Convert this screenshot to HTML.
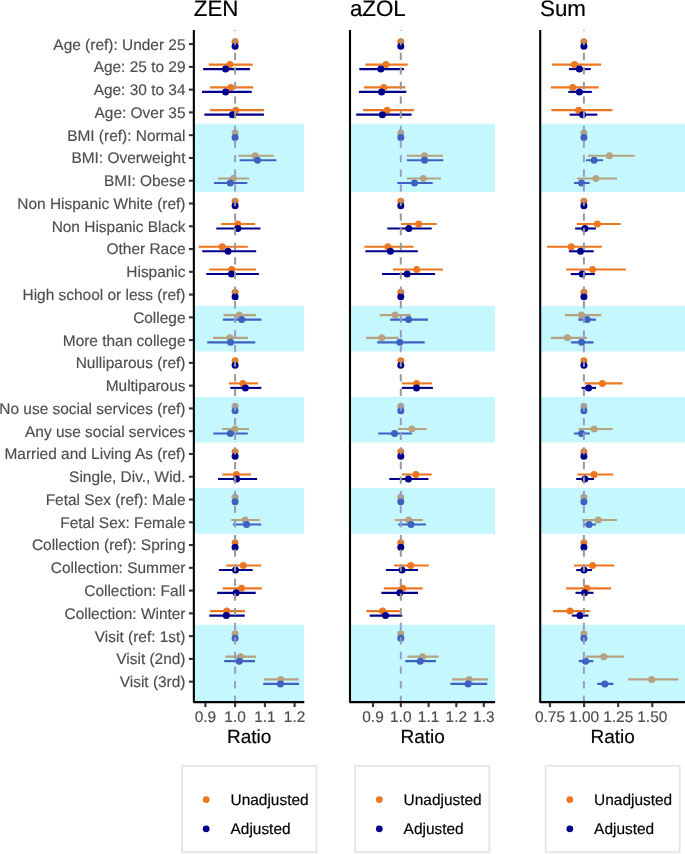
<!DOCTYPE html>
<html><head><meta charset="utf-8"><title>Forest plot</title>
<style>html,body{margin:0;padding:0;background:#fff}svg{display:block}text{font-family:"Liberation Sans",sans-serif;text-rendering:geometricPrecision}</style></head><body>
<svg style="will-change:transform" width="685" height="854" viewBox="0 0 685 854">
<rect x="0" y="0" width="685" height="854" fill="#ffffff"/>
<g font-size="15.45" fill="#4d4d4d" stroke="#4d4d4d" stroke-width="0.15" text-anchor="end">
<text x="185.5" y="49.55">Age (ref): Under 25</text>
<text x="185.5" y="72.32">Age: 25 to 29</text>
<text x="185.5" y="95.09">Age: 30 to 34</text>
<text x="185.5" y="117.86">Age: Over 35</text>
<text x="185.5" y="140.63">BMI (ref): Normal</text>
<text x="185.5" y="163.40">BMI: Overweight</text>
<text x="185.5" y="186.17">BMI: Obese</text>
<text x="185.5" y="208.94">Non Hispanic White (ref)</text>
<text x="185.5" y="231.71">Non Hispanic Black</text>
<text x="185.5" y="254.48">Other Race</text>
<text x="185.5" y="277.25">Hispanic</text>
<text x="185.5" y="300.02">High school or less (ref)</text>
<text x="185.5" y="322.79">College</text>
<text x="185.5" y="345.56">More than college</text>
<text x="185.5" y="368.33">Nulliparous (ref)</text>
<text x="185.5" y="391.10">Multiparous</text>
<text x="185.5" y="413.87">No use social services (ref)</text>
<text x="185.5" y="436.64">Any use social services</text>
<text x="185.5" y="459.41">Married and Living As (ref)</text>
<text x="185.5" y="482.18">Single, Div., Wid.</text>
<text x="185.5" y="504.95">Fetal Sex (ref): Male</text>
<text x="185.5" y="527.72">Fetal Sex: Female</text>
<text x="185.5" y="550.49">Collection (ref): Spring</text>
<text x="185.5" y="573.26">Collection: Summer</text>
<text x="185.5" y="596.03">Collection: Fall</text>
<text x="185.5" y="618.80">Collection: Winter</text>
<text x="185.5" y="641.57">Visit (ref: 1st)</text>
<text x="185.5" y="664.34">Visit (2nd)</text>
<text x="185.5" y="687.11">Visit (3rd)</text>
</g>
<g>
<clipPath id="bc0">
<rect x="193.85" y="123.80" width="110.45" height="68.31"/>
<rect x="193.85" y="305.96" width="110.45" height="45.54"/>
<rect x="193.85" y="397.04" width="110.45" height="45.54"/>
<rect x="193.85" y="488.12" width="110.45" height="45.54"/>
<rect x="193.85" y="624.74" width="110.45" height="77.37"/>
</clipPath>
<g stroke="#ed7721" stroke-width="2.1" fill="#ed7721">
<circle cx="235.1" cy="41.85" r="3.5" stroke="none"/>
<line x1="208.9" y1="64.62" x2="252.7" y2="64.62"/>
<circle cx="229.9" cy="64.62" r="3.5" stroke="none"/>
<line x1="210.1" y1="87.39" x2="253.1" y2="87.39"/>
<circle cx="230.8" cy="87.39" r="3.5" stroke="none"/>
<line x1="210.1" y1="110.16" x2="264.1" y2="110.16"/>
<circle cx="235.9" cy="110.16" r="3.5" stroke="none"/>
<circle cx="235.1" cy="132.93" r="3.5" stroke="none"/>
<line x1="238.2" y1="155.70" x2="273.7" y2="155.70"/>
<circle cx="255.2" cy="155.70" r="3.5" stroke="none"/>
<line x1="218.0" y1="178.47" x2="249.2" y2="178.47"/>
<circle cx="233.3" cy="178.47" r="3.5" stroke="none"/>
<circle cx="235.1" cy="201.24" r="3.5" stroke="none"/>
<line x1="221.2" y1="224.01" x2="255.2" y2="224.01"/>
<circle cx="237.7" cy="224.01" r="3.5" stroke="none"/>
<line x1="198.8" y1="246.78" x2="247.8" y2="246.78"/>
<circle cx="222.2" cy="246.78" r="3.5" stroke="none"/>
<line x1="209.3" y1="269.55" x2="256.0" y2="269.55"/>
<circle cx="231.7" cy="269.55" r="3.5" stroke="none"/>
<circle cx="235.1" cy="292.32" r="3.5" stroke="none"/>
<line x1="223.6" y1="315.09" x2="255.9" y2="315.09"/>
<circle cx="239.1" cy="315.09" r="3.5" stroke="none"/>
<line x1="213.1" y1="337.86" x2="247.8" y2="337.86"/>
<circle cx="229.9" cy="337.86" r="3.5" stroke="none"/>
<circle cx="235.1" cy="360.63" r="3.5" stroke="none"/>
<line x1="228.9" y1="383.40" x2="258.0" y2="383.40"/>
<circle cx="242.9" cy="383.40" r="3.5" stroke="none"/>
<circle cx="235.1" cy="406.17" r="3.5" stroke="none"/>
<line x1="222.1" y1="428.94" x2="249.0" y2="428.94"/>
<circle cx="235.0" cy="428.94" r="3.5" stroke="none"/>
<circle cx="235.1" cy="451.71" r="3.5" stroke="none"/>
<line x1="222.4" y1="474.48" x2="251.0" y2="474.48"/>
<circle cx="236.4" cy="474.48" r="3.5" stroke="none"/>
<circle cx="235.1" cy="497.25" r="3.5" stroke="none"/>
<line x1="231.2" y1="520.02" x2="259.7" y2="520.02"/>
<circle cx="245.2" cy="520.02" r="3.5" stroke="none"/>
<circle cx="235.1" cy="542.79" r="3.5" stroke="none"/>
<line x1="226.3" y1="565.56" x2="261.0" y2="565.56"/>
<circle cx="243.3" cy="565.56" r="3.5" stroke="none"/>
<line x1="222.6" y1="588.33" x2="261.8" y2="588.33"/>
<circle cx="241.5" cy="588.33" r="3.5" stroke="none"/>
<line x1="210.1" y1="611.10" x2="245.0" y2="611.10"/>
<circle cx="226.8" cy="611.10" r="3.5" stroke="none"/>
<circle cx="235.1" cy="633.87" r="3.5" stroke="none"/>
<line x1="225.4" y1="656.64" x2="256.2" y2="656.64"/>
<circle cx="240.5" cy="656.64" r="3.5" stroke="none"/>
<line x1="264.1" y1="679.41" x2="298.8" y2="679.41"/>
<circle cx="280.8" cy="679.41" r="3.5" stroke="none"/>
</g>
<g stroke="#00008b" stroke-width="2.1" fill="#00008b">
<circle cx="235.1" cy="46.35" r="3.5" stroke="none"/>
<line x1="203.1" y1="69.12" x2="249.9" y2="69.12"/>
<circle cx="225.6" cy="69.12" r="3.5" stroke="none"/>
<line x1="201.9" y1="91.89" x2="251.7" y2="91.89"/>
<circle cx="225.6" cy="91.89" r="3.5" stroke="none"/>
<line x1="204.4" y1="114.66" x2="263.9" y2="114.66"/>
<circle cx="232.4" cy="114.66" r="3.5" stroke="none"/>
<circle cx="235.1" cy="137.43" r="3.5" stroke="none"/>
<line x1="239.6" y1="160.20" x2="276.4" y2="160.20"/>
<circle cx="257.4" cy="160.20" r="3.5" stroke="none"/>
<line x1="214.0" y1="182.97" x2="247.3" y2="182.97"/>
<circle cx="230.3" cy="182.97" r="3.5" stroke="none"/>
<circle cx="235.1" cy="205.74" r="3.5" stroke="none"/>
<line x1="216.3" y1="228.51" x2="260.4" y2="228.51"/>
<circle cx="237.7" cy="228.51" r="3.5" stroke="none"/>
<line x1="202.3" y1="251.28" x2="256.2" y2="251.28"/>
<circle cx="228.0" cy="251.28" r="3.5" stroke="none"/>
<line x1="206.3" y1="274.05" x2="258.9" y2="274.05"/>
<circle cx="231.5" cy="274.05" r="3.5" stroke="none"/>
<circle cx="235.1" cy="296.82" r="3.5" stroke="none"/>
<line x1="222.9" y1="319.59" x2="261.5" y2="319.59"/>
<circle cx="241.7" cy="319.59" r="3.5" stroke="none"/>
<line x1="207.2" y1="342.36" x2="255.2" y2="342.36"/>
<circle cx="230.6" cy="342.36" r="3.5" stroke="none"/>
<circle cx="235.1" cy="365.13" r="3.5" stroke="none"/>
<line x1="230.3" y1="387.90" x2="261.3" y2="387.90"/>
<circle cx="245.4" cy="387.90" r="3.5" stroke="none"/>
<circle cx="235.1" cy="410.67" r="3.5" stroke="none"/>
<line x1="213.3" y1="433.44" x2="247.8" y2="433.44"/>
<circle cx="230.3" cy="433.44" r="3.5" stroke="none"/>
<circle cx="235.1" cy="456.21" r="3.5" stroke="none"/>
<line x1="218.0" y1="478.98" x2="257.1" y2="478.98"/>
<circle cx="236.6" cy="478.98" r="3.5" stroke="none"/>
<circle cx="235.1" cy="501.75" r="3.5" stroke="none"/>
<line x1="232.9" y1="524.52" x2="261.3" y2="524.52"/>
<circle cx="246.6" cy="524.52" r="3.5" stroke="none"/>
<circle cx="235.1" cy="547.29" r="3.5" stroke="none"/>
<line x1="218.9" y1="570.06" x2="252.7" y2="570.06"/>
<circle cx="235.5" cy="570.06" r="3.5" stroke="none"/>
<line x1="217.2" y1="592.83" x2="255.7" y2="592.83"/>
<circle cx="236.1" cy="592.83" r="3.5" stroke="none"/>
<line x1="209.3" y1="615.60" x2="244.7" y2="615.60"/>
<circle cx="226.3" cy="615.60" r="3.5" stroke="none"/>
<circle cx="235.1" cy="638.37" r="3.5" stroke="none"/>
<line x1="224.2" y1="661.14" x2="255.0" y2="661.14"/>
<circle cx="239.2" cy="661.14" r="3.5" stroke="none"/>
<line x1="263.2" y1="683.91" x2="299.1" y2="683.91"/>
<circle cx="280.4" cy="683.91" r="3.5" stroke="none"/>
</g>
<line x1="235.1" y1="703.0" x2="235.1" y2="30.0" stroke="#999999" stroke-width="2" stroke-dasharray="7.3 7.315"/>
<g clip-path="url(#bc0)">
<rect x="193.85" y="30.0" width="110.45" height="672.10" fill="#c5f8fe"/>
<g stroke="#b4a280" stroke-width="2.1" fill="#b4a280">
<circle cx="235.1" cy="41.85" r="3.5" stroke="none"/>
<line x1="208.9" y1="64.62" x2="252.7" y2="64.62"/>
<circle cx="229.9" cy="64.62" r="3.5" stroke="none"/>
<line x1="210.1" y1="87.39" x2="253.1" y2="87.39"/>
<circle cx="230.8" cy="87.39" r="3.5" stroke="none"/>
<line x1="210.1" y1="110.16" x2="264.1" y2="110.16"/>
<circle cx="235.9" cy="110.16" r="3.5" stroke="none"/>
<circle cx="235.1" cy="132.93" r="3.5" stroke="none"/>
<line x1="238.2" y1="155.70" x2="273.7" y2="155.70"/>
<circle cx="255.2" cy="155.70" r="3.5" stroke="none"/>
<line x1="218.0" y1="178.47" x2="249.2" y2="178.47"/>
<circle cx="233.3" cy="178.47" r="3.5" stroke="none"/>
<circle cx="235.1" cy="201.24" r="3.5" stroke="none"/>
<line x1="221.2" y1="224.01" x2="255.2" y2="224.01"/>
<circle cx="237.7" cy="224.01" r="3.5" stroke="none"/>
<line x1="198.8" y1="246.78" x2="247.8" y2="246.78"/>
<circle cx="222.2" cy="246.78" r="3.5" stroke="none"/>
<line x1="209.3" y1="269.55" x2="256.0" y2="269.55"/>
<circle cx="231.7" cy="269.55" r="3.5" stroke="none"/>
<circle cx="235.1" cy="292.32" r="3.5" stroke="none"/>
<line x1="223.6" y1="315.09" x2="255.9" y2="315.09"/>
<circle cx="239.1" cy="315.09" r="3.5" stroke="none"/>
<line x1="213.1" y1="337.86" x2="247.8" y2="337.86"/>
<circle cx="229.9" cy="337.86" r="3.5" stroke="none"/>
<circle cx="235.1" cy="360.63" r="3.5" stroke="none"/>
<line x1="228.9" y1="383.40" x2="258.0" y2="383.40"/>
<circle cx="242.9" cy="383.40" r="3.5" stroke="none"/>
<circle cx="235.1" cy="406.17" r="3.5" stroke="none"/>
<line x1="222.1" y1="428.94" x2="249.0" y2="428.94"/>
<circle cx="235.0" cy="428.94" r="3.5" stroke="none"/>
<circle cx="235.1" cy="451.71" r="3.5" stroke="none"/>
<line x1="222.4" y1="474.48" x2="251.0" y2="474.48"/>
<circle cx="236.4" cy="474.48" r="3.5" stroke="none"/>
<circle cx="235.1" cy="497.25" r="3.5" stroke="none"/>
<line x1="231.2" y1="520.02" x2="259.7" y2="520.02"/>
<circle cx="245.2" cy="520.02" r="3.5" stroke="none"/>
<circle cx="235.1" cy="542.79" r="3.5" stroke="none"/>
<line x1="226.3" y1="565.56" x2="261.0" y2="565.56"/>
<circle cx="243.3" cy="565.56" r="3.5" stroke="none"/>
<line x1="222.6" y1="588.33" x2="261.8" y2="588.33"/>
<circle cx="241.5" cy="588.33" r="3.5" stroke="none"/>
<line x1="210.1" y1="611.10" x2="245.0" y2="611.10"/>
<circle cx="226.8" cy="611.10" r="3.5" stroke="none"/>
<circle cx="235.1" cy="633.87" r="3.5" stroke="none"/>
<line x1="225.4" y1="656.64" x2="256.2" y2="656.64"/>
<circle cx="240.5" cy="656.64" r="3.5" stroke="none"/>
<line x1="264.1" y1="679.41" x2="298.8" y2="679.41"/>
<circle cx="280.8" cy="679.41" r="3.5" stroke="none"/>
</g>
<g stroke="#3e60c0" stroke-width="2.1" fill="#3e60c0">
<circle cx="235.1" cy="46.35" r="3.5" stroke="none"/>
<line x1="203.1" y1="69.12" x2="249.9" y2="69.12"/>
<circle cx="225.6" cy="69.12" r="3.5" stroke="none"/>
<line x1="201.9" y1="91.89" x2="251.7" y2="91.89"/>
<circle cx="225.6" cy="91.89" r="3.5" stroke="none"/>
<line x1="204.4" y1="114.66" x2="263.9" y2="114.66"/>
<circle cx="232.4" cy="114.66" r="3.5" stroke="none"/>
<circle cx="235.1" cy="137.43" r="3.5" stroke="none"/>
<line x1="239.6" y1="160.20" x2="276.4" y2="160.20"/>
<circle cx="257.4" cy="160.20" r="3.5" stroke="none"/>
<line x1="214.0" y1="182.97" x2="247.3" y2="182.97"/>
<circle cx="230.3" cy="182.97" r="3.5" stroke="none"/>
<circle cx="235.1" cy="205.74" r="3.5" stroke="none"/>
<line x1="216.3" y1="228.51" x2="260.4" y2="228.51"/>
<circle cx="237.7" cy="228.51" r="3.5" stroke="none"/>
<line x1="202.3" y1="251.28" x2="256.2" y2="251.28"/>
<circle cx="228.0" cy="251.28" r="3.5" stroke="none"/>
<line x1="206.3" y1="274.05" x2="258.9" y2="274.05"/>
<circle cx="231.5" cy="274.05" r="3.5" stroke="none"/>
<circle cx="235.1" cy="296.82" r="3.5" stroke="none"/>
<line x1="222.9" y1="319.59" x2="261.5" y2="319.59"/>
<circle cx="241.7" cy="319.59" r="3.5" stroke="none"/>
<line x1="207.2" y1="342.36" x2="255.2" y2="342.36"/>
<circle cx="230.6" cy="342.36" r="3.5" stroke="none"/>
<circle cx="235.1" cy="365.13" r="3.5" stroke="none"/>
<line x1="230.3" y1="387.90" x2="261.3" y2="387.90"/>
<circle cx="245.4" cy="387.90" r="3.5" stroke="none"/>
<circle cx="235.1" cy="410.67" r="3.5" stroke="none"/>
<line x1="213.3" y1="433.44" x2="247.8" y2="433.44"/>
<circle cx="230.3" cy="433.44" r="3.5" stroke="none"/>
<circle cx="235.1" cy="456.21" r="3.5" stroke="none"/>
<line x1="218.0" y1="478.98" x2="257.1" y2="478.98"/>
<circle cx="236.6" cy="478.98" r="3.5" stroke="none"/>
<circle cx="235.1" cy="501.75" r="3.5" stroke="none"/>
<line x1="232.9" y1="524.52" x2="261.3" y2="524.52"/>
<circle cx="246.6" cy="524.52" r="3.5" stroke="none"/>
<circle cx="235.1" cy="547.29" r="3.5" stroke="none"/>
<line x1="218.9" y1="570.06" x2="252.7" y2="570.06"/>
<circle cx="235.5" cy="570.06" r="3.5" stroke="none"/>
<line x1="217.2" y1="592.83" x2="255.7" y2="592.83"/>
<circle cx="236.1" cy="592.83" r="3.5" stroke="none"/>
<line x1="209.3" y1="615.60" x2="244.7" y2="615.60"/>
<circle cx="226.3" cy="615.60" r="3.5" stroke="none"/>
<circle cx="235.1" cy="638.37" r="3.5" stroke="none"/>
<line x1="224.2" y1="661.14" x2="255.0" y2="661.14"/>
<circle cx="239.2" cy="661.14" r="3.5" stroke="none"/>
<line x1="263.2" y1="683.91" x2="299.1" y2="683.91"/>
<circle cx="280.4" cy="683.91" r="3.5" stroke="none"/>
</g>
<line x1="235.1" y1="703.0" x2="235.1" y2="30.0" stroke="#989cc4" stroke-width="2" stroke-dasharray="7.3 7.315"/>
</g>
<g stroke="#000" stroke-width="2.1" fill="none">
<path d="M193.85,30.0 V702.1 H304.3" stroke-linejoin="round"/>
</g>
<g stroke="#333" stroke-width="2.1">
<line x1="205.4" y1="702.8000000000001" x2="205.4" y2="707.1"/>
<line x1="235.1" y1="702.8000000000001" x2="235.1" y2="707.1"/>
<line x1="264.9" y1="702.8000000000001" x2="264.9" y2="707.1"/>
<line x1="294.6" y1="702.8000000000001" x2="294.6" y2="707.1"/>
<line x1="188.95" y1="44.10" x2="193.15" y2="44.10"/>
<line x1="188.95" y1="66.87" x2="193.15" y2="66.87"/>
<line x1="188.95" y1="89.64" x2="193.15" y2="89.64"/>
<line x1="188.95" y1="112.41" x2="193.15" y2="112.41"/>
<line x1="188.95" y1="135.18" x2="193.15" y2="135.18"/>
<line x1="188.95" y1="157.95" x2="193.15" y2="157.95"/>
<line x1="188.95" y1="180.72" x2="193.15" y2="180.72"/>
<line x1="188.95" y1="203.49" x2="193.15" y2="203.49"/>
<line x1="188.95" y1="226.26" x2="193.15" y2="226.26"/>
<line x1="188.95" y1="249.03" x2="193.15" y2="249.03"/>
<line x1="188.95" y1="271.80" x2="193.15" y2="271.80"/>
<line x1="188.95" y1="294.57" x2="193.15" y2="294.57"/>
<line x1="188.95" y1="317.34" x2="193.15" y2="317.34"/>
<line x1="188.95" y1="340.11" x2="193.15" y2="340.11"/>
<line x1="188.95" y1="362.88" x2="193.15" y2="362.88"/>
<line x1="188.95" y1="385.65" x2="193.15" y2="385.65"/>
<line x1="188.95" y1="408.42" x2="193.15" y2="408.42"/>
<line x1="188.95" y1="431.19" x2="193.15" y2="431.19"/>
<line x1="188.95" y1="453.96" x2="193.15" y2="453.96"/>
<line x1="188.95" y1="476.73" x2="193.15" y2="476.73"/>
<line x1="188.95" y1="499.50" x2="193.15" y2="499.50"/>
<line x1="188.95" y1="522.27" x2="193.15" y2="522.27"/>
<line x1="188.95" y1="545.04" x2="193.15" y2="545.04"/>
<line x1="188.95" y1="567.81" x2="193.15" y2="567.81"/>
<line x1="188.95" y1="590.58" x2="193.15" y2="590.58"/>
<line x1="188.95" y1="613.35" x2="193.15" y2="613.35"/>
<line x1="188.95" y1="636.12" x2="193.15" y2="636.12"/>
<line x1="188.95" y1="658.89" x2="193.15" y2="658.89"/>
<line x1="188.95" y1="681.66" x2="193.15" y2="681.66"/>
</g>
<g>
<g font-size="15.45" fill="#4d4d4d" stroke="#4d4d4d" stroke-width="0.15" text-anchor="middle">
<text x="205.4" y="722.0">0.9</text>
<text x="235.1" y="722.0">1.0</text>
<text x="264.9" y="722.0">1.1</text>
<text x="294.6" y="722.0">1.2</text>
</g>
<text x="249.1" y="742.8" font-size="19.0" text-anchor="middle" fill="#000" stroke="#000" stroke-width="0.18">Ratio</text>
<text x="193.8" y="16.1" font-size="22.35" fill="#000" stroke="#000" stroke-width="0.18">ZEN</text>
</g>
</g>
<g>
<clipPath id="bc1">
<rect x="350.0" y="123.80" width="145.10" height="68.31"/>
<rect x="350.0" y="305.96" width="145.10" height="45.54"/>
<rect x="350.0" y="397.04" width="145.10" height="45.54"/>
<rect x="350.0" y="488.12" width="145.10" height="45.54"/>
<rect x="350.0" y="624.74" width="145.10" height="77.37"/>
</clipPath>
<g stroke="#ed7721" stroke-width="2.1" fill="#ed7721">
<circle cx="400.8" cy="41.85" r="3.5" stroke="none"/>
<line x1="365.4" y1="64.62" x2="407.7" y2="64.62"/>
<circle cx="385.9" cy="64.62" r="3.5" stroke="none"/>
<line x1="364.0" y1="87.39" x2="405.3" y2="87.39"/>
<circle cx="383.8" cy="87.39" r="3.5" stroke="none"/>
<line x1="363.0" y1="110.16" x2="413.9" y2="110.16"/>
<circle cx="387.1" cy="110.16" r="3.5" stroke="none"/>
<circle cx="400.8" cy="132.93" r="3.5" stroke="none"/>
<line x1="406.9" y1="155.70" x2="442.9" y2="155.70"/>
<circle cx="424.5" cy="155.70" r="3.5" stroke="none"/>
<line x1="406.9" y1="178.47" x2="440.9" y2="178.47"/>
<circle cx="423.3" cy="178.47" r="3.5" stroke="none"/>
<circle cx="400.8" cy="201.24" r="3.5" stroke="none"/>
<line x1="401.2" y1="224.01" x2="436.8" y2="224.01"/>
<circle cx="418.6" cy="224.01" r="3.5" stroke="none"/>
<line x1="364.4" y1="246.78" x2="413.5" y2="246.78"/>
<circle cx="387.9" cy="246.78" r="3.5" stroke="none"/>
<line x1="393.0" y1="269.55" x2="442.9" y2="269.55"/>
<circle cx="416.7" cy="269.55" r="3.5" stroke="none"/>
<circle cx="400.8" cy="292.32" r="3.5" stroke="none"/>
<line x1="379.7" y1="315.09" x2="410.8" y2="315.09"/>
<circle cx="395.1" cy="315.09" r="3.5" stroke="none"/>
<line x1="366.1" y1="337.86" x2="398.5" y2="337.86"/>
<circle cx="381.8" cy="337.86" r="3.5" stroke="none"/>
<circle cx="400.8" cy="360.63" r="3.5" stroke="none"/>
<line x1="401.8" y1="383.40" x2="432.1" y2="383.40"/>
<circle cx="416.5" cy="383.40" r="3.5" stroke="none"/>
<circle cx="400.8" cy="406.17" r="3.5" stroke="none"/>
<line x1="398.1" y1="428.94" x2="426.8" y2="428.94"/>
<circle cx="411.8" cy="428.94" r="3.5" stroke="none"/>
<circle cx="400.8" cy="451.71" r="3.5" stroke="none"/>
<line x1="401.8" y1="474.48" x2="431.7" y2="474.48"/>
<circle cx="415.9" cy="474.48" r="3.5" stroke="none"/>
<circle cx="400.8" cy="497.25" r="3.5" stroke="none"/>
<line x1="395.1" y1="520.02" x2="422.9" y2="520.02"/>
<circle cx="408.6" cy="520.02" r="3.5" stroke="none"/>
<circle cx="400.8" cy="542.79" r="3.5" stroke="none"/>
<line x1="394.0" y1="565.56" x2="428.8" y2="565.56"/>
<circle cx="410.8" cy="565.56" r="3.5" stroke="none"/>
<line x1="383.8" y1="588.33" x2="422.7" y2="588.33"/>
<circle cx="402.8" cy="588.33" r="3.5" stroke="none"/>
<line x1="366.5" y1="611.10" x2="399.8" y2="611.10"/>
<circle cx="382.6" cy="611.10" r="3.5" stroke="none"/>
<circle cx="400.8" cy="633.87" r="3.5" stroke="none"/>
<line x1="407.5" y1="656.64" x2="438.6" y2="656.64"/>
<circle cx="422.5" cy="656.64" r="3.5" stroke="none"/>
<line x1="452.2" y1="679.41" x2="488.2" y2="679.41"/>
<circle cx="469.3" cy="679.41" r="3.5" stroke="none"/>
</g>
<g stroke="#00008b" stroke-width="2.1" fill="#00008b">
<circle cx="400.8" cy="46.35" r="3.5" stroke="none"/>
<line x1="359.3" y1="69.12" x2="403.9" y2="69.12"/>
<circle cx="380.8" cy="69.12" r="3.5" stroke="none"/>
<line x1="358.9" y1="91.89" x2="406.3" y2="91.89"/>
<circle cx="381.6" cy="91.89" r="3.5" stroke="none"/>
<line x1="356.2" y1="114.66" x2="411.6" y2="114.66"/>
<circle cx="382.4" cy="114.66" r="3.5" stroke="none"/>
<circle cx="400.8" cy="137.43" r="3.5" stroke="none"/>
<line x1="406.9" y1="160.20" x2="443.3" y2="160.20"/>
<circle cx="424.5" cy="160.20" r="3.5" stroke="none"/>
<line x1="397.3" y1="182.97" x2="432.7" y2="182.97"/>
<circle cx="414.5" cy="182.97" r="3.5" stroke="none"/>
<circle cx="400.8" cy="205.74" r="3.5" stroke="none"/>
<line x1="387.3" y1="228.51" x2="431.7" y2="228.51"/>
<circle cx="408.8" cy="228.51" r="3.5" stroke="none"/>
<line x1="365.4" y1="251.28" x2="417.8" y2="251.28"/>
<circle cx="390.4" cy="251.28" r="3.5" stroke="none"/>
<line x1="382.0" y1="274.05" x2="435.1" y2="274.05"/>
<circle cx="407.1" cy="274.05" r="3.5" stroke="none"/>
<circle cx="400.8" cy="296.82" r="3.5" stroke="none"/>
<line x1="390.2" y1="319.59" x2="428.0" y2="319.59"/>
<circle cx="408.6" cy="319.59" r="3.5" stroke="none"/>
<line x1="377.1" y1="342.36" x2="424.7" y2="342.36"/>
<circle cx="399.8" cy="342.36" r="3.5" stroke="none"/>
<circle cx="400.8" cy="365.13" r="3.5" stroke="none"/>
<line x1="401.8" y1="387.90" x2="432.9" y2="387.90"/>
<circle cx="416.5" cy="387.90" r="3.5" stroke="none"/>
<circle cx="400.8" cy="410.67" r="3.5" stroke="none"/>
<line x1="378.3" y1="433.44" x2="411.8" y2="433.44"/>
<circle cx="394.5" cy="433.44" r="3.5" stroke="none"/>
<circle cx="400.8" cy="456.21" r="3.5" stroke="none"/>
<line x1="389.3" y1="478.98" x2="428.4" y2="478.98"/>
<circle cx="408.4" cy="478.98" r="3.5" stroke="none"/>
<circle cx="400.8" cy="501.75" r="3.5" stroke="none"/>
<line x1="398.1" y1="524.52" x2="425.9" y2="524.52"/>
<circle cx="411.0" cy="524.52" r="3.5" stroke="none"/>
<circle cx="400.8" cy="547.29" r="3.5" stroke="none"/>
<line x1="385.9" y1="570.06" x2="418.0" y2="570.06"/>
<circle cx="402.0" cy="570.06" r="3.5" stroke="none"/>
<line x1="381.4" y1="592.83" x2="418.0" y2="592.83"/>
<circle cx="399.8" cy="592.83" r="3.5" stroke="none"/>
<line x1="369.7" y1="615.60" x2="402.2" y2="615.60"/>
<circle cx="385.5" cy="615.60" r="3.5" stroke="none"/>
<circle cx="400.8" cy="638.37" r="3.5" stroke="none"/>
<line x1="405.3" y1="661.14" x2="435.9" y2="661.14"/>
<circle cx="420.2" cy="661.14" r="3.5" stroke="none"/>
<line x1="450.4" y1="683.91" x2="487.2" y2="683.91"/>
<circle cx="468.1" cy="683.91" r="3.5" stroke="none"/>
</g>
<line x1="400.8" y1="703.0" x2="400.8" y2="30.0" stroke="#999999" stroke-width="2" stroke-dasharray="7.3 7.315"/>
<g clip-path="url(#bc1)">
<rect x="350.0" y="30.0" width="145.10" height="672.10" fill="#c5f8fe"/>
<g stroke="#b4a280" stroke-width="2.1" fill="#b4a280">
<circle cx="400.8" cy="41.85" r="3.5" stroke="none"/>
<line x1="365.4" y1="64.62" x2="407.7" y2="64.62"/>
<circle cx="385.9" cy="64.62" r="3.5" stroke="none"/>
<line x1="364.0" y1="87.39" x2="405.3" y2="87.39"/>
<circle cx="383.8" cy="87.39" r="3.5" stroke="none"/>
<line x1="363.0" y1="110.16" x2="413.9" y2="110.16"/>
<circle cx="387.1" cy="110.16" r="3.5" stroke="none"/>
<circle cx="400.8" cy="132.93" r="3.5" stroke="none"/>
<line x1="406.9" y1="155.70" x2="442.9" y2="155.70"/>
<circle cx="424.5" cy="155.70" r="3.5" stroke="none"/>
<line x1="406.9" y1="178.47" x2="440.9" y2="178.47"/>
<circle cx="423.3" cy="178.47" r="3.5" stroke="none"/>
<circle cx="400.8" cy="201.24" r="3.5" stroke="none"/>
<line x1="401.2" y1="224.01" x2="436.8" y2="224.01"/>
<circle cx="418.6" cy="224.01" r="3.5" stroke="none"/>
<line x1="364.4" y1="246.78" x2="413.5" y2="246.78"/>
<circle cx="387.9" cy="246.78" r="3.5" stroke="none"/>
<line x1="393.0" y1="269.55" x2="442.9" y2="269.55"/>
<circle cx="416.7" cy="269.55" r="3.5" stroke="none"/>
<circle cx="400.8" cy="292.32" r="3.5" stroke="none"/>
<line x1="379.7" y1="315.09" x2="410.8" y2="315.09"/>
<circle cx="395.1" cy="315.09" r="3.5" stroke="none"/>
<line x1="366.1" y1="337.86" x2="398.5" y2="337.86"/>
<circle cx="381.8" cy="337.86" r="3.5" stroke="none"/>
<circle cx="400.8" cy="360.63" r="3.5" stroke="none"/>
<line x1="401.8" y1="383.40" x2="432.1" y2="383.40"/>
<circle cx="416.5" cy="383.40" r="3.5" stroke="none"/>
<circle cx="400.8" cy="406.17" r="3.5" stroke="none"/>
<line x1="398.1" y1="428.94" x2="426.8" y2="428.94"/>
<circle cx="411.8" cy="428.94" r="3.5" stroke="none"/>
<circle cx="400.8" cy="451.71" r="3.5" stroke="none"/>
<line x1="401.8" y1="474.48" x2="431.7" y2="474.48"/>
<circle cx="415.9" cy="474.48" r="3.5" stroke="none"/>
<circle cx="400.8" cy="497.25" r="3.5" stroke="none"/>
<line x1="395.1" y1="520.02" x2="422.9" y2="520.02"/>
<circle cx="408.6" cy="520.02" r="3.5" stroke="none"/>
<circle cx="400.8" cy="542.79" r="3.5" stroke="none"/>
<line x1="394.0" y1="565.56" x2="428.8" y2="565.56"/>
<circle cx="410.8" cy="565.56" r="3.5" stroke="none"/>
<line x1="383.8" y1="588.33" x2="422.7" y2="588.33"/>
<circle cx="402.8" cy="588.33" r="3.5" stroke="none"/>
<line x1="366.5" y1="611.10" x2="399.8" y2="611.10"/>
<circle cx="382.6" cy="611.10" r="3.5" stroke="none"/>
<circle cx="400.8" cy="633.87" r="3.5" stroke="none"/>
<line x1="407.5" y1="656.64" x2="438.6" y2="656.64"/>
<circle cx="422.5" cy="656.64" r="3.5" stroke="none"/>
<line x1="452.2" y1="679.41" x2="488.2" y2="679.41"/>
<circle cx="469.3" cy="679.41" r="3.5" stroke="none"/>
</g>
<g stroke="#3e60c0" stroke-width="2.1" fill="#3e60c0">
<circle cx="400.8" cy="46.35" r="3.5" stroke="none"/>
<line x1="359.3" y1="69.12" x2="403.9" y2="69.12"/>
<circle cx="380.8" cy="69.12" r="3.5" stroke="none"/>
<line x1="358.9" y1="91.89" x2="406.3" y2="91.89"/>
<circle cx="381.6" cy="91.89" r="3.5" stroke="none"/>
<line x1="356.2" y1="114.66" x2="411.6" y2="114.66"/>
<circle cx="382.4" cy="114.66" r="3.5" stroke="none"/>
<circle cx="400.8" cy="137.43" r="3.5" stroke="none"/>
<line x1="406.9" y1="160.20" x2="443.3" y2="160.20"/>
<circle cx="424.5" cy="160.20" r="3.5" stroke="none"/>
<line x1="397.3" y1="182.97" x2="432.7" y2="182.97"/>
<circle cx="414.5" cy="182.97" r="3.5" stroke="none"/>
<circle cx="400.8" cy="205.74" r="3.5" stroke="none"/>
<line x1="387.3" y1="228.51" x2="431.7" y2="228.51"/>
<circle cx="408.8" cy="228.51" r="3.5" stroke="none"/>
<line x1="365.4" y1="251.28" x2="417.8" y2="251.28"/>
<circle cx="390.4" cy="251.28" r="3.5" stroke="none"/>
<line x1="382.0" y1="274.05" x2="435.1" y2="274.05"/>
<circle cx="407.1" cy="274.05" r="3.5" stroke="none"/>
<circle cx="400.8" cy="296.82" r="3.5" stroke="none"/>
<line x1="390.2" y1="319.59" x2="428.0" y2="319.59"/>
<circle cx="408.6" cy="319.59" r="3.5" stroke="none"/>
<line x1="377.1" y1="342.36" x2="424.7" y2="342.36"/>
<circle cx="399.8" cy="342.36" r="3.5" stroke="none"/>
<circle cx="400.8" cy="365.13" r="3.5" stroke="none"/>
<line x1="401.8" y1="387.90" x2="432.9" y2="387.90"/>
<circle cx="416.5" cy="387.90" r="3.5" stroke="none"/>
<circle cx="400.8" cy="410.67" r="3.5" stroke="none"/>
<line x1="378.3" y1="433.44" x2="411.8" y2="433.44"/>
<circle cx="394.5" cy="433.44" r="3.5" stroke="none"/>
<circle cx="400.8" cy="456.21" r="3.5" stroke="none"/>
<line x1="389.3" y1="478.98" x2="428.4" y2="478.98"/>
<circle cx="408.4" cy="478.98" r="3.5" stroke="none"/>
<circle cx="400.8" cy="501.75" r="3.5" stroke="none"/>
<line x1="398.1" y1="524.52" x2="425.9" y2="524.52"/>
<circle cx="411.0" cy="524.52" r="3.5" stroke="none"/>
<circle cx="400.8" cy="547.29" r="3.5" stroke="none"/>
<line x1="385.9" y1="570.06" x2="418.0" y2="570.06"/>
<circle cx="402.0" cy="570.06" r="3.5" stroke="none"/>
<line x1="381.4" y1="592.83" x2="418.0" y2="592.83"/>
<circle cx="399.8" cy="592.83" r="3.5" stroke="none"/>
<line x1="369.7" y1="615.60" x2="402.2" y2="615.60"/>
<circle cx="385.5" cy="615.60" r="3.5" stroke="none"/>
<circle cx="400.8" cy="638.37" r="3.5" stroke="none"/>
<line x1="405.3" y1="661.14" x2="435.9" y2="661.14"/>
<circle cx="420.2" cy="661.14" r="3.5" stroke="none"/>
<line x1="450.4" y1="683.91" x2="487.2" y2="683.91"/>
<circle cx="468.1" cy="683.91" r="3.5" stroke="none"/>
</g>
<line x1="400.8" y1="703.0" x2="400.8" y2="30.0" stroke="#989cc4" stroke-width="2" stroke-dasharray="7.3 7.315"/>
</g>
<g stroke="#000" stroke-width="2.1" fill="none">
<path d="M350.0,30.0 V702.1 H495.1" stroke-linejoin="round"/>
</g>
<g stroke="#333" stroke-width="2.1">
<line x1="373.0" y1="702.8000000000001" x2="373.0" y2="707.1"/>
<line x1="400.8" y1="702.8000000000001" x2="400.8" y2="707.1"/>
<line x1="428.6" y1="702.8000000000001" x2="428.6" y2="707.1"/>
<line x1="456.3" y1="702.8000000000001" x2="456.3" y2="707.1"/>
<line x1="483.8" y1="702.8000000000001" x2="483.8" y2="707.1"/>
</g>
<g>
<g font-size="15.45" fill="#4d4d4d" stroke="#4d4d4d" stroke-width="0.15" text-anchor="middle">
<text x="373.0" y="722.0">0.9</text>
<text x="400.8" y="722.0">1.0</text>
<text x="428.6" y="722.0">1.1</text>
<text x="456.3" y="722.0">1.2</text>
<text x="483.8" y="722.0">1.3</text>
</g>
<text x="422.6" y="742.8" font-size="19.0" text-anchor="middle" fill="#000" stroke="#000" stroke-width="0.18">Ratio</text>
<text x="349.9" y="16.1" font-size="22.35" fill="#000" stroke="#000" stroke-width="0.18">aZOL</text>
</g>
</g>
<g>
<clipPath id="bc2">
<rect x="540.2" y="123.80" width="145.80" height="68.31"/>
<rect x="540.2" y="305.96" width="145.80" height="45.54"/>
<rect x="540.2" y="397.04" width="145.80" height="45.54"/>
<rect x="540.2" y="488.12" width="145.80" height="45.54"/>
<rect x="540.2" y="624.74" width="145.80" height="77.37"/>
</clipPath>
<g stroke="#ed7721" stroke-width="2.1" fill="#ed7721">
<circle cx="583.9" cy="41.85" r="3.5" stroke="none"/>
<line x1="552.1" y1="64.62" x2="601.1" y2="64.62"/>
<circle cx="574.4" cy="64.62" r="3.5" stroke="none"/>
<line x1="551.0" y1="87.39" x2="598.7" y2="87.39"/>
<circle cx="572.7" cy="87.39" r="3.5" stroke="none"/>
<line x1="551.4" y1="110.16" x2="612.5" y2="110.16"/>
<circle cx="578.6" cy="110.16" r="3.5" stroke="none"/>
<circle cx="583.9" cy="132.93" r="3.5" stroke="none"/>
<line x1="588.0" y1="155.70" x2="634.8" y2="155.70"/>
<circle cx="609.4" cy="155.70" r="3.5" stroke="none"/>
<line x1="577.0" y1="178.47" x2="617.1" y2="178.47"/>
<circle cx="595.9" cy="178.47" r="3.5" stroke="none"/>
<circle cx="583.9" cy="201.24" r="3.5" stroke="none"/>
<line x1="577.0" y1="224.01" x2="620.8" y2="224.01"/>
<circle cx="597.4" cy="224.01" r="3.5" stroke="none"/>
<line x1="547.0" y1="246.78" x2="601.8" y2="246.78"/>
<circle cx="571.3" cy="246.78" r="3.5" stroke="none"/>
<line x1="566.1" y1="269.55" x2="625.9" y2="269.55"/>
<circle cx="592.6" cy="269.55" r="3.5" stroke="none"/>
<circle cx="583.9" cy="292.32" r="3.5" stroke="none"/>
<line x1="564.8" y1="315.09" x2="601.3" y2="315.09"/>
<circle cx="581.4" cy="315.09" r="3.5" stroke="none"/>
<line x1="550.8" y1="337.86" x2="586.9" y2="337.86"/>
<circle cx="567.4" cy="337.86" r="3.5" stroke="none"/>
<circle cx="583.9" cy="360.63" r="3.5" stroke="none"/>
<line x1="584.7" y1="383.40" x2="622.6" y2="383.40"/>
<circle cx="602.4" cy="383.40" r="3.5" stroke="none"/>
<circle cx="583.9" cy="406.17" r="3.5" stroke="none"/>
<line x1="578.4" y1="428.94" x2="612.7" y2="428.94"/>
<circle cx="594.1" cy="428.94" r="3.5" stroke="none"/>
<circle cx="583.9" cy="451.71" r="3.5" stroke="none"/>
<line x1="577.3" y1="474.48" x2="613.2" y2="474.48"/>
<circle cx="594.1" cy="474.48" r="3.5" stroke="none"/>
<circle cx="583.9" cy="497.25" r="3.5" stroke="none"/>
<line x1="582.1" y1="520.02" x2="616.9" y2="520.02"/>
<circle cx="598.1" cy="520.02" r="3.5" stroke="none"/>
<circle cx="583.9" cy="542.79" r="3.5" stroke="none"/>
<line x1="574.0" y1="565.56" x2="614.3" y2="565.56"/>
<circle cx="592.6" cy="565.56" r="3.5" stroke="none"/>
<line x1="566.1" y1="588.33" x2="611.0" y2="588.33"/>
<circle cx="586.9" cy="588.33" r="3.5" stroke="none"/>
<line x1="553.0" y1="611.10" x2="589.7" y2="611.10"/>
<circle cx="570.0" cy="611.10" r="3.5" stroke="none"/>
<circle cx="583.9" cy="633.87" r="3.5" stroke="none"/>
<line x1="586.0" y1="656.64" x2="623.9" y2="656.64"/>
<circle cx="603.8" cy="656.64" r="3.5" stroke="none"/>
<line x1="628.3" y1="679.41" x2="678.4" y2="679.41"/>
<circle cx="651.7" cy="679.41" r="3.5" stroke="none"/>
</g>
<g stroke="#00008b" stroke-width="2.1" fill="#00008b">
<circle cx="583.9" cy="46.35" r="3.5" stroke="none"/>
<line x1="568.9" y1="69.12" x2="590.8" y2="69.12"/>
<circle cx="579.4" cy="69.12" r="3.5" stroke="none"/>
<line x1="568.3" y1="91.89" x2="591.9" y2="91.89"/>
<circle cx="579.4" cy="91.89" r="3.5" stroke="none"/>
<line x1="569.6" y1="114.66" x2="597.4" y2="114.66"/>
<circle cx="582.7" cy="114.66" r="3.5" stroke="none"/>
<circle cx="583.9" cy="137.43" r="3.5" stroke="none"/>
<line x1="586.0" y1="160.20" x2="603.1" y2="160.20"/>
<circle cx="594.1" cy="160.20" r="3.5" stroke="none"/>
<line x1="574.0" y1="182.97" x2="589.7" y2="182.97"/>
<circle cx="581.6" cy="182.97" r="3.5" stroke="none"/>
<circle cx="583.9" cy="205.74" r="3.5" stroke="none"/>
<line x1="575.1" y1="228.51" x2="595.9" y2="228.51"/>
<circle cx="584.9" cy="228.51" r="3.5" stroke="none"/>
<line x1="568.9" y1="251.28" x2="593.7" y2="251.28"/>
<circle cx="580.5" cy="251.28" r="3.5" stroke="none"/>
<line x1="570.7" y1="274.05" x2="594.8" y2="274.05"/>
<circle cx="582.1" cy="274.05" r="3.5" stroke="none"/>
<circle cx="583.9" cy="296.82" r="3.5" stroke="none"/>
<line x1="578.4" y1="319.59" x2="595.9" y2="319.59"/>
<circle cx="587.1" cy="319.59" r="3.5" stroke="none"/>
<line x1="571.1" y1="342.36" x2="593.5" y2="342.36"/>
<circle cx="581.6" cy="342.36" r="3.5" stroke="none"/>
<circle cx="583.9" cy="365.13" r="3.5" stroke="none"/>
<line x1="581.6" y1="387.90" x2="596.1" y2="387.90"/>
<circle cx="588.6" cy="387.90" r="3.5" stroke="none"/>
<circle cx="583.9" cy="410.67" r="3.5" stroke="none"/>
<line x1="574.0" y1="433.44" x2="589.7" y2="433.44"/>
<circle cx="581.6" cy="433.44" r="3.5" stroke="none"/>
<circle cx="583.9" cy="456.21" r="3.5" stroke="none"/>
<line x1="576.2" y1="478.98" x2="594.1" y2="478.98"/>
<circle cx="584.9" cy="478.98" r="3.5" stroke="none"/>
<circle cx="583.9" cy="501.75" r="3.5" stroke="none"/>
<line x1="583.6" y1="524.52" x2="595.9" y2="524.52"/>
<circle cx="589.1" cy="524.52" r="3.5" stroke="none"/>
<circle cx="583.9" cy="547.29" r="3.5" stroke="none"/>
<line x1="576.2" y1="570.06" x2="591.9" y2="570.06"/>
<circle cx="584.0" cy="570.06" r="3.5" stroke="none"/>
<line x1="575.5" y1="592.83" x2="593.5" y2="592.83"/>
<circle cx="584.5" cy="592.83" r="3.5" stroke="none"/>
<line x1="571.8" y1="615.60" x2="588.4" y2="615.60"/>
<circle cx="579.9" cy="615.60" r="3.5" stroke="none"/>
<circle cx="583.9" cy="638.37" r="3.5" stroke="none"/>
<line x1="578.8" y1="661.14" x2="593.2" y2="661.14"/>
<circle cx="585.6" cy="661.14" r="3.5" stroke="none"/>
<line x1="597.2" y1="683.91" x2="613.4" y2="683.91"/>
<circle cx="604.8" cy="683.91" r="3.5" stroke="none"/>
</g>
<line x1="583.9" y1="703.0" x2="583.9" y2="30.0" stroke="#999999" stroke-width="2" stroke-dasharray="7.3 7.315"/>
<g clip-path="url(#bc2)">
<rect x="540.2" y="30.0" width="145.80" height="672.10" fill="#c5f8fe"/>
<g stroke="#b4a280" stroke-width="2.1" fill="#b4a280">
<circle cx="583.9" cy="41.85" r="3.5" stroke="none"/>
<line x1="552.1" y1="64.62" x2="601.1" y2="64.62"/>
<circle cx="574.4" cy="64.62" r="3.5" stroke="none"/>
<line x1="551.0" y1="87.39" x2="598.7" y2="87.39"/>
<circle cx="572.7" cy="87.39" r="3.5" stroke="none"/>
<line x1="551.4" y1="110.16" x2="612.5" y2="110.16"/>
<circle cx="578.6" cy="110.16" r="3.5" stroke="none"/>
<circle cx="583.9" cy="132.93" r="3.5" stroke="none"/>
<line x1="588.0" y1="155.70" x2="634.8" y2="155.70"/>
<circle cx="609.4" cy="155.70" r="3.5" stroke="none"/>
<line x1="577.0" y1="178.47" x2="617.1" y2="178.47"/>
<circle cx="595.9" cy="178.47" r="3.5" stroke="none"/>
<circle cx="583.9" cy="201.24" r="3.5" stroke="none"/>
<line x1="577.0" y1="224.01" x2="620.8" y2="224.01"/>
<circle cx="597.4" cy="224.01" r="3.5" stroke="none"/>
<line x1="547.0" y1="246.78" x2="601.8" y2="246.78"/>
<circle cx="571.3" cy="246.78" r="3.5" stroke="none"/>
<line x1="566.1" y1="269.55" x2="625.9" y2="269.55"/>
<circle cx="592.6" cy="269.55" r="3.5" stroke="none"/>
<circle cx="583.9" cy="292.32" r="3.5" stroke="none"/>
<line x1="564.8" y1="315.09" x2="601.3" y2="315.09"/>
<circle cx="581.4" cy="315.09" r="3.5" stroke="none"/>
<line x1="550.8" y1="337.86" x2="586.9" y2="337.86"/>
<circle cx="567.4" cy="337.86" r="3.5" stroke="none"/>
<circle cx="583.9" cy="360.63" r="3.5" stroke="none"/>
<line x1="584.7" y1="383.40" x2="622.6" y2="383.40"/>
<circle cx="602.4" cy="383.40" r="3.5" stroke="none"/>
<circle cx="583.9" cy="406.17" r="3.5" stroke="none"/>
<line x1="578.4" y1="428.94" x2="612.7" y2="428.94"/>
<circle cx="594.1" cy="428.94" r="3.5" stroke="none"/>
<circle cx="583.9" cy="451.71" r="3.5" stroke="none"/>
<line x1="577.3" y1="474.48" x2="613.2" y2="474.48"/>
<circle cx="594.1" cy="474.48" r="3.5" stroke="none"/>
<circle cx="583.9" cy="497.25" r="3.5" stroke="none"/>
<line x1="582.1" y1="520.02" x2="616.9" y2="520.02"/>
<circle cx="598.1" cy="520.02" r="3.5" stroke="none"/>
<circle cx="583.9" cy="542.79" r="3.5" stroke="none"/>
<line x1="574.0" y1="565.56" x2="614.3" y2="565.56"/>
<circle cx="592.6" cy="565.56" r="3.5" stroke="none"/>
<line x1="566.1" y1="588.33" x2="611.0" y2="588.33"/>
<circle cx="586.9" cy="588.33" r="3.5" stroke="none"/>
<line x1="553.0" y1="611.10" x2="589.7" y2="611.10"/>
<circle cx="570.0" cy="611.10" r="3.5" stroke="none"/>
<circle cx="583.9" cy="633.87" r="3.5" stroke="none"/>
<line x1="586.0" y1="656.64" x2="623.9" y2="656.64"/>
<circle cx="603.8" cy="656.64" r="3.5" stroke="none"/>
<line x1="628.3" y1="679.41" x2="678.4" y2="679.41"/>
<circle cx="651.7" cy="679.41" r="3.5" stroke="none"/>
</g>
<g stroke="#3e60c0" stroke-width="2.1" fill="#3e60c0">
<circle cx="583.9" cy="46.35" r="3.5" stroke="none"/>
<line x1="568.9" y1="69.12" x2="590.8" y2="69.12"/>
<circle cx="579.4" cy="69.12" r="3.5" stroke="none"/>
<line x1="568.3" y1="91.89" x2="591.9" y2="91.89"/>
<circle cx="579.4" cy="91.89" r="3.5" stroke="none"/>
<line x1="569.6" y1="114.66" x2="597.4" y2="114.66"/>
<circle cx="582.7" cy="114.66" r="3.5" stroke="none"/>
<circle cx="583.9" cy="137.43" r="3.5" stroke="none"/>
<line x1="586.0" y1="160.20" x2="603.1" y2="160.20"/>
<circle cx="594.1" cy="160.20" r="3.5" stroke="none"/>
<line x1="574.0" y1="182.97" x2="589.7" y2="182.97"/>
<circle cx="581.6" cy="182.97" r="3.5" stroke="none"/>
<circle cx="583.9" cy="205.74" r="3.5" stroke="none"/>
<line x1="575.1" y1="228.51" x2="595.9" y2="228.51"/>
<circle cx="584.9" cy="228.51" r="3.5" stroke="none"/>
<line x1="568.9" y1="251.28" x2="593.7" y2="251.28"/>
<circle cx="580.5" cy="251.28" r="3.5" stroke="none"/>
<line x1="570.7" y1="274.05" x2="594.8" y2="274.05"/>
<circle cx="582.1" cy="274.05" r="3.5" stroke="none"/>
<circle cx="583.9" cy="296.82" r="3.5" stroke="none"/>
<line x1="578.4" y1="319.59" x2="595.9" y2="319.59"/>
<circle cx="587.1" cy="319.59" r="3.5" stroke="none"/>
<line x1="571.1" y1="342.36" x2="593.5" y2="342.36"/>
<circle cx="581.6" cy="342.36" r="3.5" stroke="none"/>
<circle cx="583.9" cy="365.13" r="3.5" stroke="none"/>
<line x1="581.6" y1="387.90" x2="596.1" y2="387.90"/>
<circle cx="588.6" cy="387.90" r="3.5" stroke="none"/>
<circle cx="583.9" cy="410.67" r="3.5" stroke="none"/>
<line x1="574.0" y1="433.44" x2="589.7" y2="433.44"/>
<circle cx="581.6" cy="433.44" r="3.5" stroke="none"/>
<circle cx="583.9" cy="456.21" r="3.5" stroke="none"/>
<line x1="576.2" y1="478.98" x2="594.1" y2="478.98"/>
<circle cx="584.9" cy="478.98" r="3.5" stroke="none"/>
<circle cx="583.9" cy="501.75" r="3.5" stroke="none"/>
<line x1="583.6" y1="524.52" x2="595.9" y2="524.52"/>
<circle cx="589.1" cy="524.52" r="3.5" stroke="none"/>
<circle cx="583.9" cy="547.29" r="3.5" stroke="none"/>
<line x1="576.2" y1="570.06" x2="591.9" y2="570.06"/>
<circle cx="584.0" cy="570.06" r="3.5" stroke="none"/>
<line x1="575.5" y1="592.83" x2="593.5" y2="592.83"/>
<circle cx="584.5" cy="592.83" r="3.5" stroke="none"/>
<line x1="571.8" y1="615.60" x2="588.4" y2="615.60"/>
<circle cx="579.9" cy="615.60" r="3.5" stroke="none"/>
<circle cx="583.9" cy="638.37" r="3.5" stroke="none"/>
<line x1="578.8" y1="661.14" x2="593.2" y2="661.14"/>
<circle cx="585.6" cy="661.14" r="3.5" stroke="none"/>
<line x1="597.2" y1="683.91" x2="613.4" y2="683.91"/>
<circle cx="604.8" cy="683.91" r="3.5" stroke="none"/>
</g>
<line x1="583.9" y1="703.0" x2="583.9" y2="30.0" stroke="#989cc4" stroke-width="2" stroke-dasharray="7.3 7.315"/>
</g>
<g stroke="#000" stroke-width="2.1" fill="none">
<path d="M540.2,30.0 V702.1 H686" stroke-linejoin="round"/>
</g>
<g stroke="#333" stroke-width="2.1">
<line x1="550.0" y1="702.8000000000001" x2="550.0" y2="707.1"/>
<line x1="584.1" y1="702.8000000000001" x2="584.1" y2="707.1"/>
<line x1="618.2" y1="702.8000000000001" x2="618.2" y2="707.1"/>
<line x1="652.3" y1="702.8000000000001" x2="652.3" y2="707.1"/>
</g>
<g>
<g font-size="15.45" fill="#4d4d4d" stroke="#4d4d4d" stroke-width="0.15" text-anchor="middle">
<text x="550.0" y="722.0">0.75</text>
<text x="584.1" y="722.0">1.00</text>
<text x="618.2" y="722.0">1.25</text>
<text x="652.3" y="722.0">1.50</text>
</g>
<text x="612.6" y="742.8" font-size="19.0" text-anchor="middle" fill="#000" stroke="#000" stroke-width="0.18">Ratio</text>
<text x="540.0" y="16.1" font-size="22.35" fill="#000" stroke="#000" stroke-width="0.18">Sum</text>
</g>
</g>
<rect x="182.1" y="765.8" width="134.4" height="86.5" fill="#fff" stroke="#e5e5e5" stroke-width="1.8"/>
<circle cx="206.2" cy="799.6" r="3.4" fill="#ed7721"/>
<circle cx="206.2" cy="828.8" r="3.4" fill="#00008b"/>
<g font-size="15.45" fill="#000" stroke="#000" stroke-width="0.18">
<text x="230.5" y="805.0">Unadjusted</text>
<text x="230.5" y="834.2">Adjusted</text>
</g>
<rect x="355.2" y="765.8" width="134.1" height="86.5" fill="#fff" stroke="#e5e5e5" stroke-width="1.8"/>
<circle cx="379.3" cy="799.6" r="3.4" fill="#ed7721"/>
<circle cx="379.3" cy="828.8" r="3.4" fill="#00008b"/>
<g font-size="15.45" fill="#000" stroke="#000" stroke-width="0.18">
<text x="403.6" y="805.0">Unadjusted</text>
<text x="403.6" y="834.2">Adjusted</text>
</g>
<rect x="545.7" y="765.8" width="134.0" height="86.5" fill="#fff" stroke="#e5e5e5" stroke-width="1.8"/>
<circle cx="569.8" cy="799.6" r="3.4" fill="#ed7721"/>
<circle cx="569.8" cy="828.8" r="3.4" fill="#00008b"/>
<g font-size="15.45" fill="#000" stroke="#000" stroke-width="0.18">
<text x="594.1" y="805.0">Unadjusted</text>
<text x="594.1" y="834.2">Adjusted</text>
</g>
</svg></body></html>
